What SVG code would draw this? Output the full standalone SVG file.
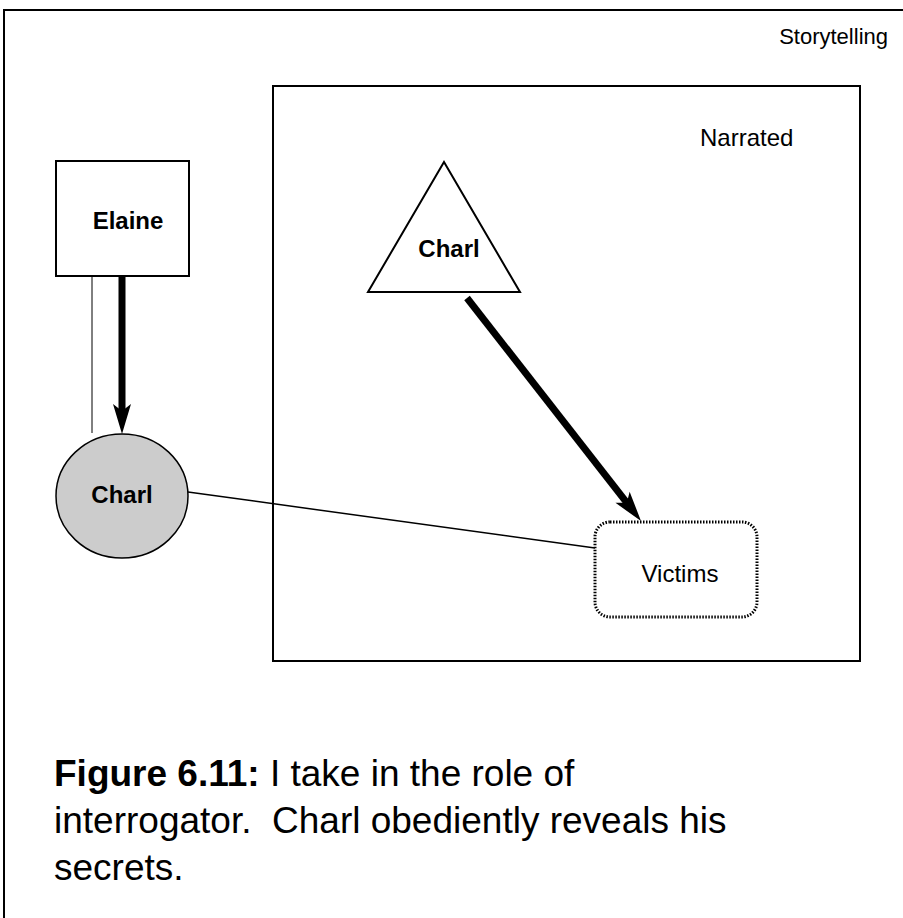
<svg xmlns="http://www.w3.org/2000/svg" width="903" height="918" viewBox="0 0 903 918">
  <style>
    text { font-family: "Liberation Sans", Arial, sans-serif; fill: #000; }
    .lbl { font-size: 24px; font-weight: bold; text-anchor: middle; }
    .reg { font-size: 24px; }
    .frame { fill: none; stroke: #000; stroke-width: 2; }
    .thick { stroke: #000; stroke-width: 7; fill: none; }
    .thin { stroke: #000; stroke-width: 1.5; fill: none; }
  </style>
  <defs>
    <marker id="barb" markerUnits="userSpaceOnUse" viewBox="-15 -12 40 24" refX="0" refY="0" markerWidth="40" markerHeight="24" orient="auto" overflow="visible">
      <path d="M20,0 L-10,-9 L-3,0 L-10,9 Z" fill="#000"/>
    </marker>
  </defs>
  <rect width="903" height="918" fill="#fff"/>

  <g id="storytelling">
    <path class="frame" d="M4,918 V10 H903"/>
    <text x="888" y="44" style="font-size:22px" text-anchor="end">Storytelling</text>
  </g>

  <g id="narrated">
    <rect class="frame" x="273" y="86" width="587" height="575"/>
    <text class="reg" x="700" y="146">Narrated</text>
  </g>

  <g id="connectors">
    <line class="thin" x1="92" y1="276" x2="92" y2="433" style="stroke-width:1"/>
    <line class="thick" x1="122" y1="276" x2="122" y2="414" marker-end="url(#barb)"/>
    <line class="thick" x1="467" y1="298" x2="628.7" y2="505.2" marker-end="url(#barb)"/>
    <line class="thin" x1="188" y1="492" x2="595" y2="548"/>
  </g>

  <g id="elaine">
    <rect class="frame" x="56" y="161" width="133" height="115"/>
    <text class="lbl" x="128" y="229">Elaine</text>
  </g>

  <g id="charl-circle">
    <ellipse cx="122" cy="496" rx="66" ry="62" fill="#cccccc" stroke="#000" stroke-width="1.5"/>
    <text class="lbl" x="122" y="503">Charl</text>
  </g>

  <g id="charl-triangle">
    <polygon points="444,162 520,292 368,292" fill="#fff" stroke="#000" stroke-width="2"/>
    <text class="lbl" x="449" y="257">Charl</text>
  </g>

  <g id="victims">
    <rect x="595" y="522" width="162" height="95" rx="15" ry="15" fill="#fff" stroke="#000" stroke-width="3" stroke-dasharray="1.5 1.5"/>
    <text class="reg" x="680" y="582" text-anchor="middle">Victims</text>
  </g>

  <g id="caption" style="font-size:37px">
    <text x="54" y="786"><tspan font-weight="bold">Figure 6.11:</tspan> I take in the role of</text>
    <text x="54" y="833" xml:space="preserve">interrogator.  Charl obediently reveals his</text>
    <text x="54" y="880">secrets.</text>
  </g>
</svg>
